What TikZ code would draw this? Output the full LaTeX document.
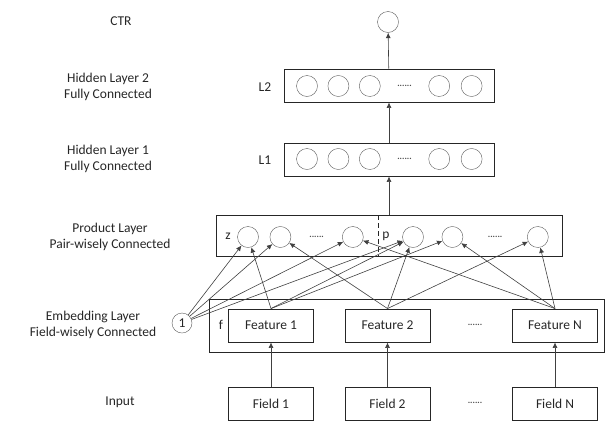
\documentclass[tikz,border=0pt]{standalone}
\usepackage{fontspec}
\setmainfont{Carlito}
\usetikzlibrary{positioning, arrows.meta, fit, calc}

\begin{document}
\begin{tikzpicture}[
  x=1pt, y=-1pt,
  node distance=10pt and 10pt,
  every node/.style={font=\fontsize{13.5}{16}\selectfont, text=black!85},
  unit/.style={draw=black!65, circle, minimum size=21pt, inner sep=0pt},
  layerbox/.style={draw=black!85, line width=0.9pt, inner sep=0pt},
  featbox/.style={draw=black!85, line width=0.9pt, minimum width=85pt, minimum height=33pt, inner sep=0pt},
  lbl/.style={align=center},
  dots/.style={font=\fontsize{9}{9}\selectfont\bfseries, inner sep=0pt, text=black!70},
  arr/.style={-{Latex[length=5.5pt, width=5pt]}, draw=black!75, line width=0.6pt}
]
\useasboundingbox (0,0) rectangle (609,421);

% layer names
\node[lbl] (tctr) at (121,21) {CTR};
\node[lbl] (th2) at (108,87) {Hidden Layer 2\\Fully Connected};
\node[lbl] (th1) at (108,159) {Hidden Layer 1\\Fully Connected};
\node[lbl] (tprod) at (110,237) {Product Layer\\Pair-wisely Connected};
\node[lbl] (temb) at (93,325) {Embedding Layer\\Field-wisely Connected};
\node[lbl] (tin) at (120,402) {Input};

% output
\node[unit] (ctr) at (388,22) {};

% hidden layer 2
\node[layerbox, minimum width=210pt, minimum height=33pt] (l2) at (389,85.5) {};
\node (tl2) at (265,87) {L2};
\node[unit] (a1) at (307,86) {};
\node[unit, right=of a1] (a2) {};
\node[unit, right=of a2] (a3) {};
\node[unit, right=48pt of a3] (a4) {};
\node[unit, right=11pt of a4] (a5) {};
\node[dots] (ad) at ($(a3)!0.5!(a4)$) {......};

% hidden layer 1
\node[layerbox, minimum width=210pt, minimum height=33pt] (l1) at (389,159.5) {};
\node (tl1) at (265,160) {L1};
\node[unit] (b1) at (307,159) {};
\node[unit, right=of b1] (b2) {};
\node[unit, right=of b2] (b3) {};
\node[unit, right=48pt of b3] (b4) {};
\node[unit, right=11pt of b4] (b5) {};
\node[dots] (bd) at ($(b3)!0.5!(b4)$) {......};

% product layer
\node[layerbox, minimum width=346pt, minimum height=41pt] (prod) at (389,235.5) {};
\draw[dashed, dash pattern=on 5pt off 3pt, draw=black!85, line width=0.9pt] (378,215) -- (378,256);
\node (tz) at (228,236) {z};
\node[unit] (z1) at (248,237) {};
\node[unit, right=11pt of z1] (z2) {};
\node[unit, right=51pt of z2] (z3) {};
\node[dots] (zd) at ($(z2)!0.5!(z3)$) {......};
\node (tp) at (386,236) {p};
\node[unit] (p1) at (413,237) {};
\node[unit, right=18pt of p1] (p2) {};
\node[unit, right=64pt of p2] (p3) {};
\node[dots] (pd) at ($(p2)!0.5!(p3)$) {......};

% embedding layer
\node[layerbox, minimum width=395pt, minimum height=53pt] (emb) at (406.5,325.5) {};
\node (tf) at (221,325) {f};
\node[unit, minimum size=20pt] (one) at (182,323) {1};
\node[featbox] (f1) at (271,325.5) {Feature 1};
\node[featbox] (f2) at (387.5,325.5) {Feature 2};
\node[featbox] (fn) at (555,325.5) {Feature N};
\node[dots] (fd) at (475,325) {......};

% input
\node[featbox] (i1) at (271,403.5) {Field 1};
\node[featbox] (i2) at (387.5,403.5) {Field 2};
\node[featbox] (in) at (555,403.5) {Field N};
\node[dots] (id) at (475,403) {......};

\draw[arr] (i1) -- (f1);
\draw[arr] (i2) -- (f2);
\draw[arr] (in) -- (fn);

\draw[arr] (one) -- (z1);
\draw[arr] (one) -- (z2);
\draw[arr] (one) -- (z3);
\draw[arr] (one) -- (p1);
\draw[arr] (f1.north) -- (z1);
\draw[arr] (f1.north) -- (p1);
\draw[arr] (f1.north) -- (p2);
\draw[arr] (f2.north) -- (z2);
\draw[arr] (f2.north) -- (p1);
\draw[arr] (f2.north) -- (p3);
\draw[arr] (fn.north) -- (z3);
\draw[arr] (fn.north) -- (p2);
\draw[arr] (fn.north) -- (p3);

\draw[arr] (prod.north) -- (l1);
\draw[arr] (l1) -- (l2);
\draw[arr] (l2) -- (ctr);
\end{tikzpicture}
\end{document}
